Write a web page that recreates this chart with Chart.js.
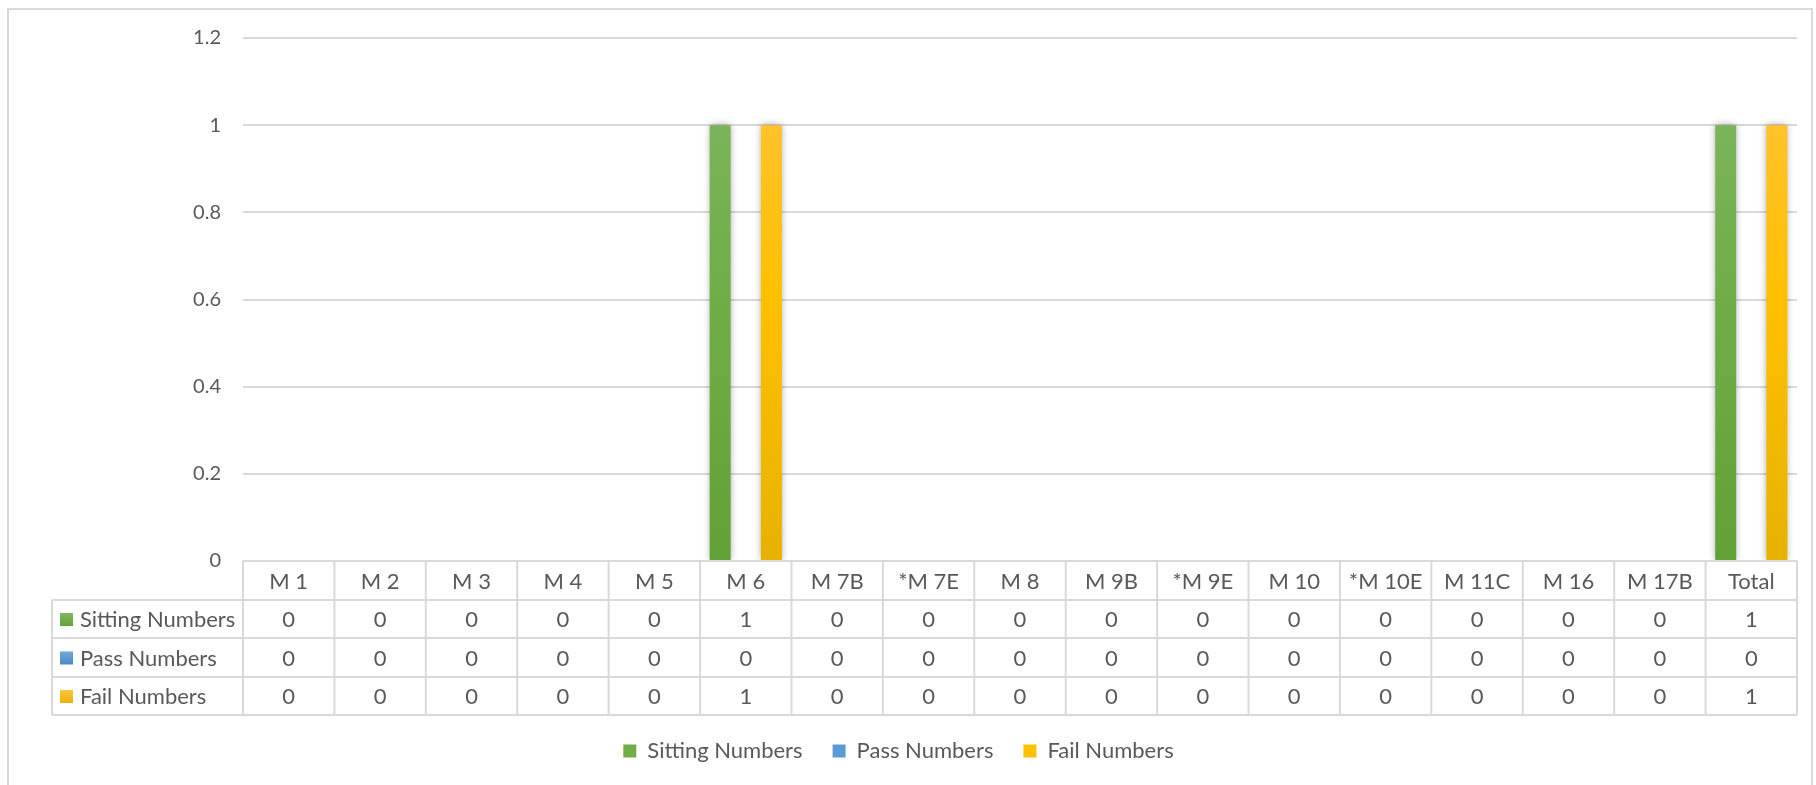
<!DOCTYPE html>
<html>
<head>
<meta charset="utf-8">
<script src="https://cdn.jsdelivr.net/npm/chart.js@4/dist/chart.umd.min.js"></script>
<style>
  html, body { margin: 0; padding: 0; background: #fff; }
  #wrap { position: relative; width: 1816px; height: 785px; overflow: hidden; }
  #frame { position: absolute; left: 7px; top: 8px; width: 1806px; height: 800px; border: 2px solid #d9d9d9; box-sizing: border-box; }
  #chart { position: absolute; left: 0; top: 0; }
</style>
</head>
<body>
<div id="wrap">
  <div id="frame"></div>
  <canvas id="chart" width="1816" height="785"></canvas>
</div>
<script>
// Datos
const categories = ['M 1', 'M 2', 'M 3', 'M 4', 'M 5', 'M 6', 'M 7B', '*M 7E', 'M 8', 'M 9B', '*M 9E', 'M 10', '*M 10E', 'M 11C', 'M 16', 'M 17B', 'Total'];
const sittingNumbers = [0, 0, 0, 0, 0, 1, 0, 0, 0, 0, 0, 0, 0, 0, 0, 0, 1];
const passNumbers    = [0, 0, 0, 0, 0, 0, 0, 0, 0, 0, 0, 0, 0, 0, 0, 0, 0];
const failNumbers    = [0, 0, 0, 0, 0, 1, 0, 0, 0, 0, 0, 0, 0, 0, 0, 0, 1];
const yTicks = [0, 0.2, 0.4, 0.6, 0.8, 1, 1.2];

const GRID = '#d9d9d9';
const TEXT = '#595959';
const FONT = 'Lato, "Liberation Sans", sans-serif';

// colores con degradado vertical, como en Excel
const palettes = {
    green:  ['#80b763', '#70ad47', '#62a136'],
    blue:   ['#6fa8dc', '#5b9bd5', '#4a88c2'],
    yellow: ['#ffc43e', '#ffc000', '#e6b200']
};

function gradientFor(name) {
    return function(context) {
        const chart = context.chart;
        const area = chart.chartArea;
        const c = palettes[name];
        if (!area) return c[1];
        const g = chart.ctx.createLinearGradient(0, area.top, 0, area.bottom);
        g.addColorStop(0, c[0]);
        g.addColorStop(0.5, c[1]);
        g.addColorStop(1, c[2]);
        return g;
    };
}

Chart.defaults.font.family = FONT;
Chart.defaults.font.size = 20;
Chart.defaults.color = TEXT;

// Sombra suave detrás de las barras
const barShadow = {
    id: 'barShadow',
    beforeDatasetsDraw(chart) {
        const ctx = chart.ctx;
        ctx.save();
        ctx.shadowColor = 'rgba(0,0,0,0.35)';
        ctx.shadowBlur = 7;
        ctx.shadowOffsetX = 0;
        ctx.shadowOffsetY = 0;
    },
    afterDatasetsDraw(chart) {
        chart.ctx.restore();
    }
};

// Tabla de datos debajo del eje X
const dataTable = {
    id: 'dataTable',
    afterDraw(chart) {
        const ctx = chart.ctx;
        const x = chart.scales.x;
        const area = chart.chartArea;
        const top = area.bottom;
        const rows = [top, top + 39, top + 77, top + 116, top + 154];
        const tableLeft = 52;
        const colW = x.getPixelForValue(1) - x.getPixelForValue(0);
        const left = x.getPixelForValue(0) - colW / 2;
        const right = x.getPixelForValue(categories.length - 1) + colW / 2;

        ctx.save();
        ctx.strokeStyle = GRID;
        ctx.lineWidth = 2;
        ctx.beginPath();
        // líneas horizontales
        ctx.moveTo(left, rows[0]); ctx.lineTo(right, rows[0]);
        for (let r = 1; r < rows.length; r++) {
            ctx.moveTo(tableLeft, rows[r]); ctx.lineTo(right, rows[r]);
        }
        // líneas verticales
        ctx.moveTo(tableLeft, rows[1]); ctx.lineTo(tableLeft, rows[4]);
        for (let i = 0; i <= categories.length; i++) {
            const px = left + i * colW;
            ctx.moveTo(px, rows[0]); ctx.lineTo(px, rows[4]);
        }
        ctx.stroke();

        ctx.fillStyle = TEXT;
        ctx.font = '22px ' + FONT;
        ctx.textAlign = 'center';
        ctx.textBaseline = 'middle';
        categories.forEach((c, i) => {
            ctx.fillText(c, x.getPixelForValue(i), (rows[0] + rows[1]) / 2 + 1);
        });

        chart.data.datasets.forEach((ds, r) => {
            const yMid = (rows[r + 1] + rows[r + 2]) / 2 + 1;
            ds.data.forEach((v, i) => {
                ctx.fillText(String(v), x.getPixelForValue(i), yMid);
            });
            // clave de la serie
            const c = palettes[ds.paletteName];
            const g = ctx.createLinearGradient(0, yMid - 7, 0, yMid + 7);
            g.addColorStop(0, c[0]);
            g.addColorStop(1, c[2]);
            ctx.fillStyle = g;
            ctx.fillRect(60, yMid - 7, 13, 13);
            ctx.fillStyle = TEXT;
            ctx.textAlign = 'left';
            ctx.fillText(ds.label, 80, yMid);
            ctx.textAlign = 'center';
        });
        ctx.restore();
    }
};

const ctx = document.getElementById('chart').getContext('2d');
const chart = new Chart(ctx, {
    type: 'bar',
    data: {
        labels: categories,
        datasets: [
            { label: 'Sitting Numbers', data: sittingNumbers, paletteName: 'green', backgroundColor: gradientFor('green') },
            { label: 'Pass Numbers', data: passNumbers, paletteName: 'blue', backgroundColor: gradientFor('blue') },
            { label: 'Fail Numbers', data: failNumbers, paletteName: 'yellow', backgroundColor: gradientFor('yellow') }
        ]
    },
    options: {
        responsive: false,
        animation: false,
        devicePixelRatio: 1,
        layout: { padding: { top: 38, right: 19, bottom: 13, left: 0 } },
        datasets: { bar: { categoryPercentage: 0.84, barPercentage: 0.82 } },
        plugins: {
            tooltip: { enabled: false },
            legend: {
                position: 'bottom',
                labels: {
                    boxWidth: 13,
                    boxHeight: 13,
                    padding: 30,
                    color: TEXT,
                    font: { size: 22 },
                    generateLabels(chart) {
                        return chart.data.datasets.map((ds, i) => ({
                            text: ds.label,
                            fillStyle: palettes[ds.paletteName][1],
                            strokeStyle: palettes[ds.paletteName][1],
                            lineWidth: 0,
                            datasetIndex: i,
                            fontColor: TEXT
                        }));
                    }
                }
            }
        },
        scales: {
            x: {
                grid: { display: false },
                border: { display: false },
                ticks: { display: false },
                afterFit(scale) { scale.height = 149; }
            },
            y: {
                min: 0,
                max: 1.2,
                afterBuildTicks(scale) { scale.ticks = yTicks.map(v => ({ value: v })); },
                ticks: {
                    padding: 22,
                    color: TEXT,
                    font: { size: 20 },
                    callback: (v) => String(Math.round(v * 10) / 10)
                },
                grid: { color: GRID, lineWidth: 2, drawTicks: false },
                border: { display: false },
                afterFit(scale) { scale.width = 243; }
            }
        }
    },
    plugins: [barShadow, dataTable]
});
</script>
</body>
</html>
